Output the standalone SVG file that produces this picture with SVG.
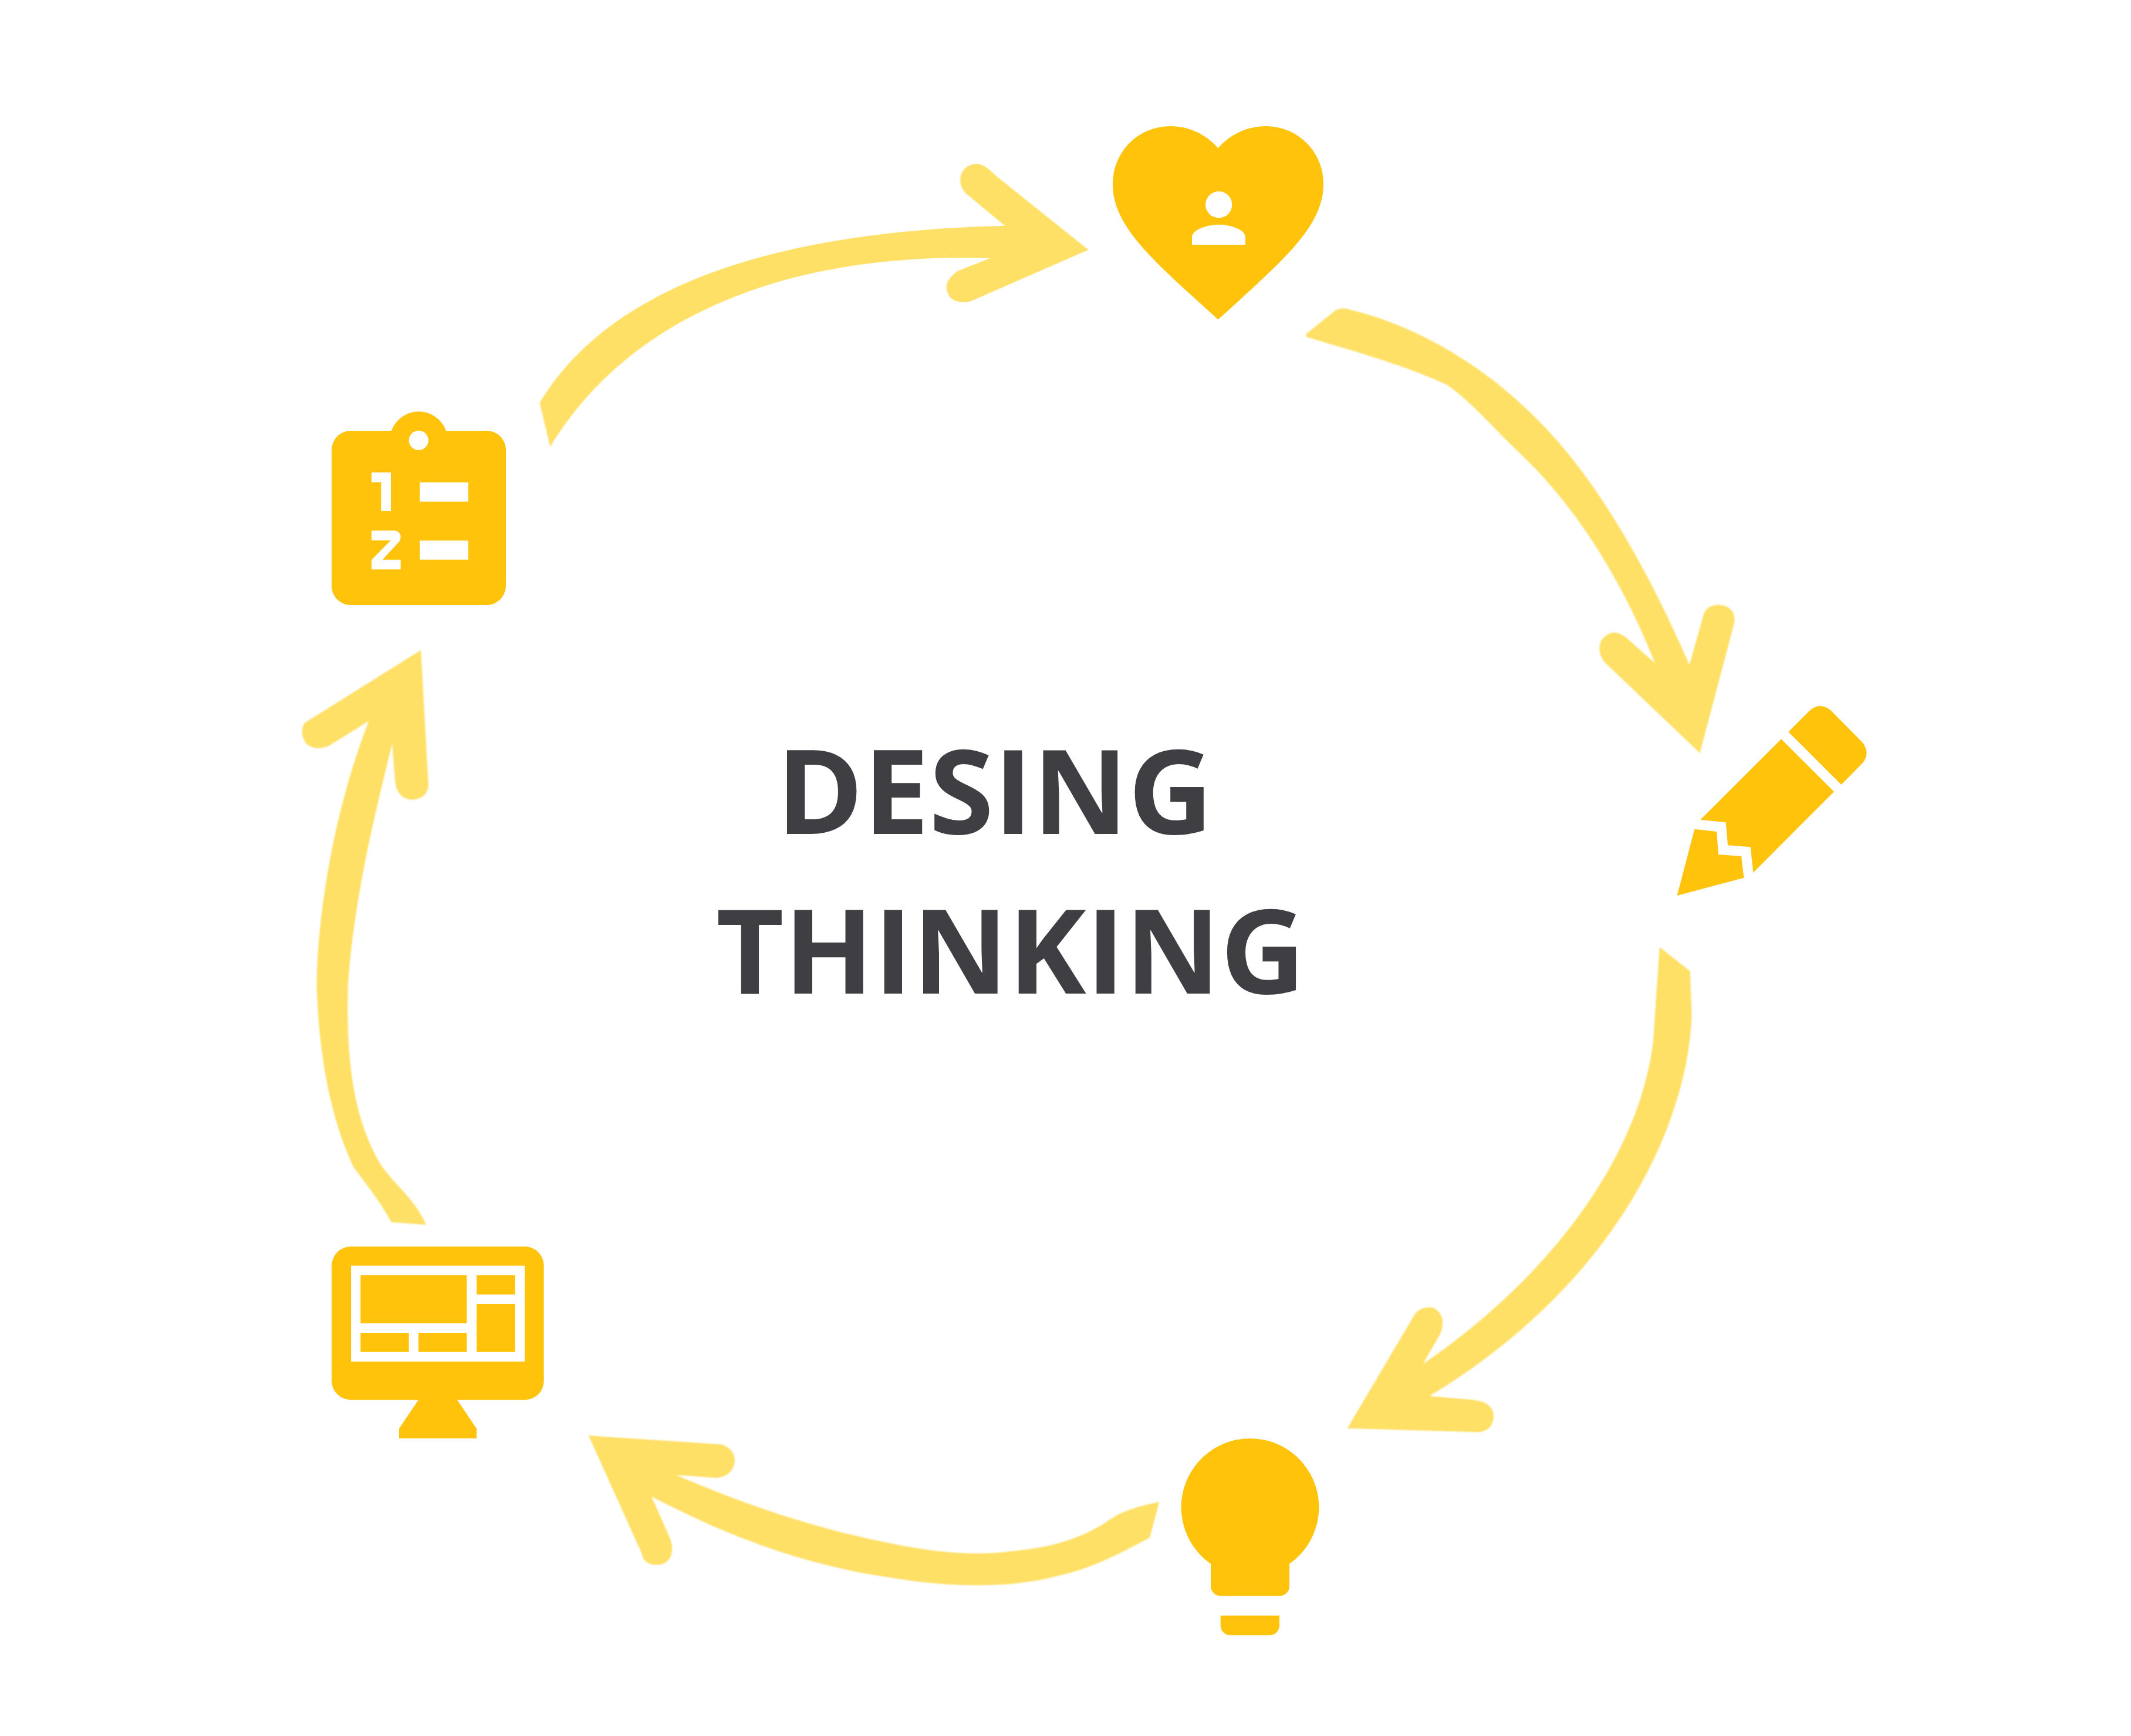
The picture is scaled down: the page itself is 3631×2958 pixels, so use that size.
<svg xmlns="http://www.w3.org/2000/svg" width="3631" height="2958" viewBox="0 0 3631 2958">
<style>
.i{fill:#FFC30B}
.w{fill:#FFFFFF}
.a{fill:#FFE066;filter:url(#soft)}
.t{font-family:"Open Sans","Liberation Sans",sans-serif;font-weight:700;font-size:200px;fill:#3F3E43}
</style>
<defs><filter id="soft" x="-5%" y="-5%" width="110%" height="110%"><feGaussianBlur stdDeviation="2"/></filter></defs>
<rect width="3631" height="2958" class="w"/>
<g id="connectors">
<path class="a" transform="translate(880,240) scale(.6378,.3571)" d="M90 1460L62 1250C180 900 470 440 1305 405L1200 250C1170 190 1190 110 1230 110C1250 112 1265 140 1280 165L1528 520L1220 760Q1185 785 1160 750Q1130 680 1180 620L1265 560C720 530 300 840 90 1460Z"/>
<path class="a" transform="translate(2200,500) scale(.5102)" d="M50 135L150 55Q175 45 200 55C420 110 620 230 780 380C1010 590 1190 920 1330 1240L1378 1070Q1390 1040 1430 1040Q1485 1045 1480 1100L1365 1535L1045 1230Q1020 1195 1035 1160Q1070 1110 1120 1150L1215 1235C1090 920 930 690 760 530C690 465 600 360 520 305C380 240 200 190 50 145Z"/>
<path class="a" transform="translate(2260,1600) scale(.5485)" d="M1035 25L1130 100L1135 240C1120 590 890 1075 320 1420L460 1432Q520 1440 520 1485Q515 1530 470 1532L65 1520L275 1165Q295 1140 330 1145Q375 1165 355 1225L300 1320C640 1090 965 720 1015 320Z"/>
<path class="a" transform="translate(980,2000) scale(.6505,.611)" d="M35 730L385 755Q420 770 418 805Q410 845 370 848L265 840C450 925 650 1000 900 1045C1020 1065 1100 1060 1165 1050C1260 1040 1340 1010 1400 965C1440 935 1490 925 1530 915L1505 1015C1440 1050 1370 1095 1270 1120C1150 1155 1000 1155 850 1130C600 1095 400 1010 200 900L250 1020Q265 1075 225 1090Q180 1095 175 1060Z"/>
<path class="a" transform="translate(100,1100) scale(.6442)" d="M958 12L978 370Q975 405 935 408Q895 405 890 360L882 260C830 470 780 680 765 900C760 1100 780 1250 850 1370C890 1430 940 1460 972 1532L880 1525C850 1470 810 1420 780 1380C720 1250 690 1100 682 900C685 700 730 430 820 200L715 265Q680 280 655 260Q635 230 650 205Z"/>
</g>
<g id="node-test" transform="translate(500,650) scale(.33333)">
<path class="i" d="M293 252H501A148 148 0 0 1 780 252H988A98 98 0 0 1 1086 350V1044A99 99 0 0 1 988 1143H293A98 98 0 0 1 195 1044V350A98 98 0 0 1 293 252Z"/>
<circle class="w" cx="640" cy="301" r="50"/>
<path class="w" d="M399 465H498V663H448V515H399Z"/>
<rect class="w" x="646" y="516" width="248" height="98"/>
<path class="w" d="M399 762H515Q548 765 548 795Q548 812 535 825L455 911H548V961H399V912L497 812H399Z"/>
<rect class="w" x="646" y="813" width="248" height="98"/>
</g>
<g id="node-empathize" transform="translate(1860.1,161.2) scale(17.95)">
<path class="i" d="M12 21.35l-1.45-1.32C5.4 15.36 2 12.28 2 8.5 2 5.42 4.42 3 7.5 3c1.74 0 3.41.81 4.5 2.09C13.09 3.81 14.76 3 16.5 3 19.58 3 22 5.42 22 8.5c0 3.78-3.4 6.86-8.55 11.54L12 21.35z"/>
</g>
<g id="node-empathize-person" transform="translate(1850,180) scale(.33333)">
<circle class="w" cx="680" cy="506" r="68"/>
<path class="w" d="M543 711V672C543 632 625 608 680 608C735 608 816 632 816 672V711Z"/>
</g>
<g id="node-define" transform="translate(2820,1170) scale(.33333)">
<path class="i" d="M682 231L790 123Q844 75 900 123L1058 283Q1105 339 1058 394L952 501Z"/>
<path class="i" d="M645 268L915 537L502 950L488 820L372 811L362 694L232 680Z"/>
<path class="i" d="M202 728L315 741L324 858L441 867L454 977L113 1068Z"/>
</g>
<g id="node-ideate" transform="translate(1980,2420) scale(.33333)">
<path class="i" d="M249 734A352 352 0 1 1 651 734V848A50 50 0 0 1 601 898H299A50 50 0 0 1 249 848Z"/>
<path class="i" d="M299 998H600V1050A50 50 0 0 1 550 1099H349A50 50 0 0 1 299 1050Z"/>
</g>
<g id="node-prototype" transform="translate(540,2100) scale(.33333)">
<path class="i" d="M174 72H1062A98 98 0 0 1 1160 170V758A98 98 0 0 1 1062 856H717L816 1003V1052H420V1003L519 856H174A99 99 0 0 1 75 758V170A99 99 0 0 1 174 72Z"/>
<rect class="w" x="174" y="170" width="888" height="490"/>
<rect class="i" x="223" y="219" width="543" height="245"/>
<rect class="i" x="816" y="219" width="197" height="98"/>
<rect class="i" x="816" y="366" width="197" height="245"/>
<rect class="i" x="223" y="513" width="247" height="98"/>
<rect class="i" x="519" y="513" width="247" height="98"/>
</g>
<g id="title">
<text class="t" x="1323" y="1421">DESING</text>
<text class="t" x="1220" y="1693">THINKING</text>
</g>
</svg>
